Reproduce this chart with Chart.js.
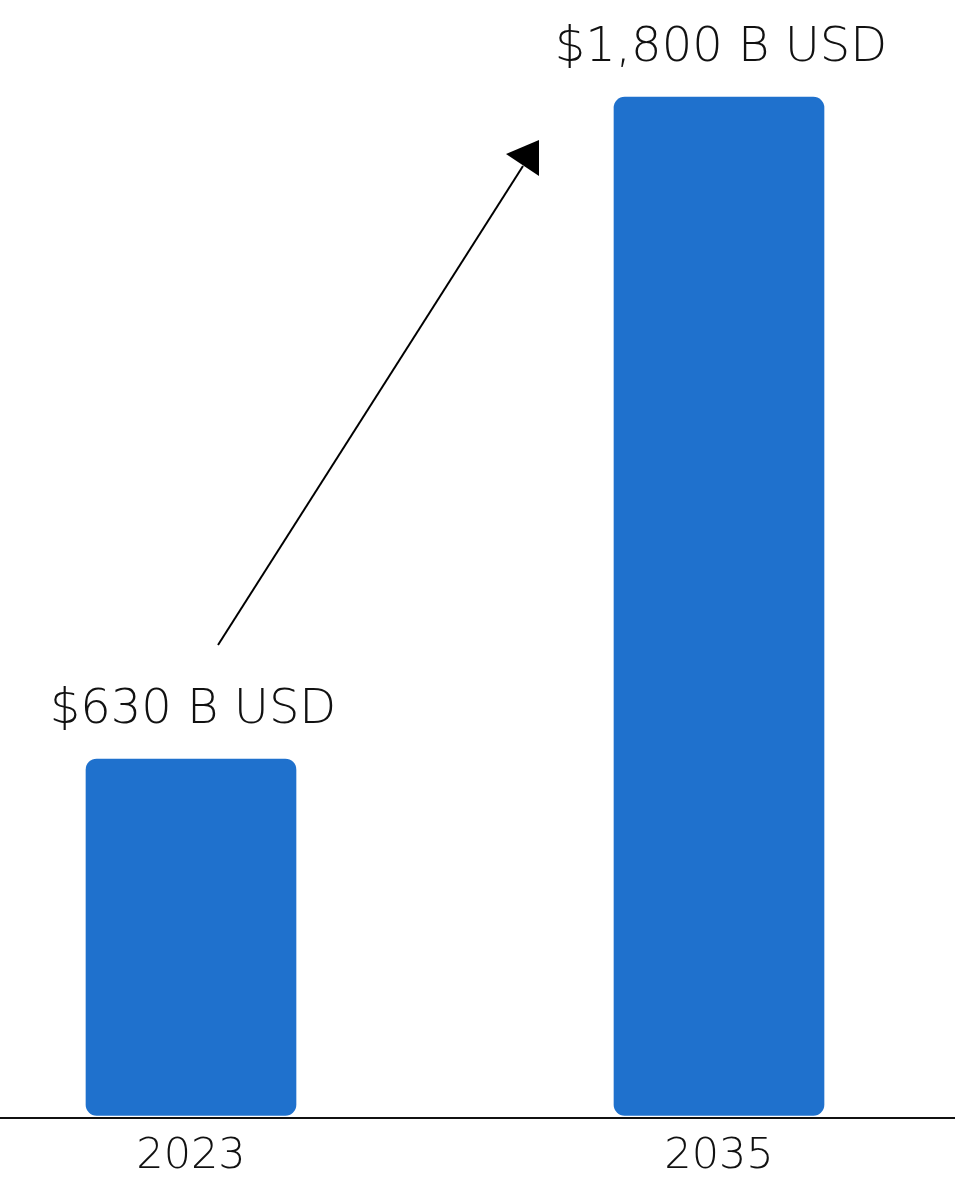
<!DOCTYPE html>
<html>
<head>
<meta charset="utf-8">
<script src="https://cdn.jsdelivr.net/npm/chart.js@4.4.1/dist/chart.umd.min.js"></script>
<style>
  html, body { margin: 0; padding: 0; background: #ffffff; }
  #wrap { width: 961px; height: 1183px; position: relative; }
</style>
</head>
<body>
<div id="wrap"><canvas id="chart"></canvas></div>
<script>
// Market size, billions of USD
const years = ['2023', '2035'];
const marketSize = [630, 1800];
const valueLabels = ['$630 B USD', '$1,800 B USD'];

const BAR_BLUE = '#1f71cd';
const TEXT_COLOR = '#111111';
const LABEL_FONT = '200 48px "DejaVu Sans", sans-serif';

// Value captions above each bar
const valueLabelPlugin = {
  id: 'valueLabels',
  afterDatasetsDraw(chart) {
    const ctx = chart.ctx;
    const bars = chart.getDatasetMeta(0).data;
    ctx.save();
    ctx.font = LABEL_FONT;
    ctx.fillStyle = TEXT_COLOR;
    ctx.textAlign = 'center';
    ctx.textBaseline = 'alphabetic';
    bars.forEach((bar, i) => {
      ctx.fillText(valueLabels[i], bar.x + 2, bar.y - 36);
    });
    ctx.restore();
  }
};

// Growth arrow from the first caption toward the second bar
const growthArrowPlugin = {
  id: 'growthArrow',
  afterDatasetsDraw(chart) {
    const ctx = chart.ctx;
    const [a, b] = chart.getDatasetMeta(0).data;
    const sx = a.x + 27, sy = a.y - 114;
    const tipX = b.x - b.width / 2 - 75, tipY = b.y + 43;
    ctx.save();
    ctx.strokeStyle = '#000000';
    ctx.lineWidth = 2;
    ctx.beginPath();
    ctx.moveTo(sx, sy);
    ctx.lineTo(tipX - 16, tipY + 26);
    ctx.stroke();
    ctx.fillStyle = '#000000';
    ctx.beginPath();
    ctx.moveTo(tipX, tipY);
    ctx.lineTo(tipX, tipY + 36);
    ctx.lineTo(tipX - 33, tipY + 14);
    ctx.closePath();
    ctx.fill();
    ctx.restore();
  }
};

// Baseline running across the full width, just under the bars
const baselinePlugin = {
  id: 'baseline',
  afterDatasetsDraw(chart) {
    const ctx = chart.ctx;
    const y = chart.scales.y.getPixelForValue(0) + 2.5;
    ctx.save();
    ctx.strokeStyle = TEXT_COLOR;
    ctx.lineWidth = 2;
    ctx.beginPath();
    ctx.moveTo(0, y);
    ctx.lineTo(955, y);
    ctx.stroke();
    ctx.restore();
  }
};

new Chart(document.getElementById('chart'), {
  type: 'bar',
  data: {
    labels: years,
    datasets: [{
      data: marketSize,
      backgroundColor: BAR_BLUE,
      borderRadius: 11,
      borderSkipped: false,
      barThickness: 210,
      clip: false
    }]
  },
  options: {
    responsive: true,
    maintainAspectRatio: false,
    animation: false,
    layout: { padding: { left: 191, right: 242, top: 97, bottom: -16 } },
    plugins: { legend: { display: false }, tooltip: { enabled: false } },
    scales: {
      x: {
        offset: false,
        grid: { display: false, drawTicks: false },
        border: { display: false },
        ticks: {
          color: TEXT_COLOR,
          padding: 16,
          font: { family: '"DejaVu Sans", sans-serif', weight: '200', size: 43 }
        }
      },
      y: {
        display: false,
        min: 0,
        max: 1800
      }
    }
  },
  plugins: [valueLabelPlugin, growthArrowPlugin, baselinePlugin]
});
</script>
</body>
</html>
